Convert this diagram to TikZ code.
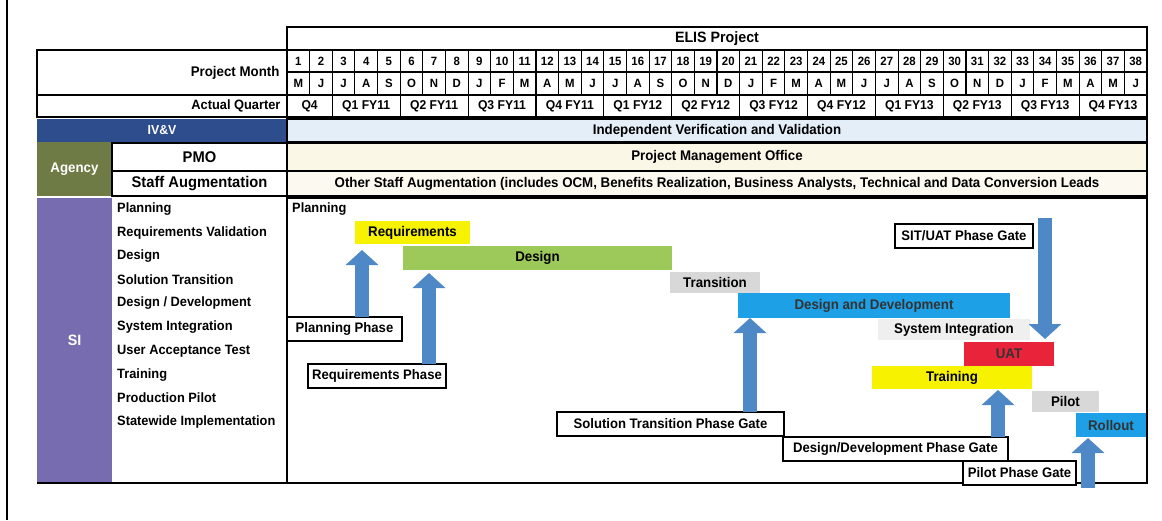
\documentclass[tikz,border=0pt]{standalone}
\usepackage{fontspec}
\setmainfont{Liberation Sans}[FakeStretch=0.95,BoldFeatures={FakeStretch=0.95}]
\usetikzlibrary{arrows.meta}
\definecolor{reqyellow}{HTML}{F7F200}
\definecolor{desgreen}{HTML}{9DC85A}
\definecolor{tragray}{HTML}{D8D8D8}
\definecolor{ddblue}{HTML}{1EA0E6}
\definecolor{sitgray}{HTML}{EFEFEF}
\definecolor{uatred}{HTML}{E8233A}
\definecolor{arrowblue}{HTML}{4F88C6}
\definecolor{ivvblue}{HTML}{2D4D8C}
\definecolor{ivvlight}{HTML}{E4EEF8}
\definecolor{creamA}{HTML}{FBF7E6}
\definecolor{creamB}{HTML}{FCFAF0}
\definecolor{agencyolive}{HTML}{6E7B45}
\definecolor{sipurple}{HTML}{776CB0}
\newcommand{\fsz}[1]{\fontsize{#1}{#1}\selectfont\bfseries}
\newcommand{\gbox}[7]{%
  \pgfmathsetmacro\gbw{#4-#2}\pgfmathsetmacro\gbh{#5-#3}%
  \node[inner sep=0pt, outer sep=0pt, minimum width=\gbw pt, minimum height=\gbh pt, #6] (#1) at ({(#2+#4)/2},{(#3+#5)/2}) {#7};}
\tikzset{
  cell/.style={draw=black, line width=1.1pt, fill=white, font=\fsz{12}},
  qcell/.style={draw=black, line width=1.1pt, fill=white, font=\fsz{12.8}},
  hdr/.style={draw=black, line width=1.1pt, fill=white, font=\fsz{15}},
  rowr/.style={draw=black, line width=1.1pt, font=\fsz{14}},
  bar/.style={draw=none, font=\fsz{14}},
  gate/.style={draw=black, line width=1.1pt, fill=white, font=\fsz{13.8}},
  silabel/.style={anchor=west, inner sep=0pt, font=\fsz{13.5}},
  garrow/.style={line width=14pt, draw=arrowblue, -{Triangle[width=32pt,length=15pt]}}
}
\begin{document}
\begin{tikzpicture}[x=1pt,y=-1pt]
\useasboundingbox (0,0) rectangle (1162,520);
\fill[white] (0,0) rectangle (1162,520);
\draw[line width=1.2pt] (7,0) -- (7,520);
% header
\gbox{elis}{287}{27}{1147}{50}{hdr}{ELIS Project}
\gbox{pm}{37}{50}{287}{95}{hdr}{}
\node[anchor=east, font=\fsz{14}] at ([xshift=-4pt]pm.east) {Project Month};
\gbox{aq}{37}{95}{287}{117}{hdr}{}
\node[anchor=east, font=\fsz{13.5}] at ([xshift=-3pt]aq.east) {Actual Quarter};
\foreach \m [count=\i] in {M,J,J,A,S,O,N,D,J,F,M,A,M,J,J,A,S,O,N,D,J,F,M,A,M,J,J,A,S,O,N,D,J,F,M,A,M,J} {
  \pgfmathsetmacro\xa{287+(\i-1)*22.632}
  \pgfmathsetmacro\xb{287+\i*22.632}
  \gbox{n\i}{\xa}{50}{\xb}{72}{cell}{\i}
  \gbox{m\i}{\xa}{72}{\xb}{95}{cell}{\m}
}
\foreach \a/\b/\t [count=\k] in {1/2/Q4, 3/5/Q1 FY11, 6/8/Q2 FY11, 9/11/Q3 FY11, 12/14/Q4 FY11, 15/17/Q1 FY12, 18/20/Q2 FY12, 21/23/Q3 FY12, 24/26/Q4 FY12, 27/29/Q1 FY13, 30/32/Q2 FY13, 33/35/Q3 FY13, 36/38/Q4 FY13} {
  \pgfmathsetmacro\xa{287+(\a-1)*22.632}
  \pgfmathsetmacro\xb{287+\b*22.632}
  \gbox{q\k}{\xa}{95}{\xb}{117}{qcell}{\t}
}
% agency rows
\gbox{ivvl}{37}{119}{287}{142}{fill=ivvblue, text=white, font=\fsz{13}}{IV\&V}
\gbox{ivvr}{287}{119}{1147}{142}{rowr, fill=ivvlight}{Independent Verification and Validation}
\gbox{agency}{37}{142}{112}{196}{fill=agencyolive, text=white, font=\fsz{14}}{Agency}
\gbox{pmol}{112}{143}{287}{171}{rowr, fill=white, font=\fsz{15.5}}{PMO}
\gbox{pmor}{287}{143}{1147}{171}{rowr, fill=creamA}{Project Management Office}
\gbox{stfl}{112}{171}{287}{196}{rowr, fill=white, font=\fsz{15.5}}{Staff Augmentation}
\gbox{stfr}{287}{171}{1147}{196}{rowr, fill=creamB}{Other Staff Augmentation (includes OCM, Benefits Realization, Business Analysts, Technical and Data Conversion Leads}
% SI block
\gbox{si}{37}{198}{112}{483}{fill=sipurple, text=white, font=\fsz{15}}{SI}
\gbox{chart}{287}{198}{1147}{483}{draw=black, line width=1.1pt}{}
\draw[line width=1.1pt] (si.south west) -- (chart.south west);
\node[silabel] (l1) at (117,209) {Planning};
\node[silabel] (l2) at (117,233) {Requirements Validation};
\node[silabel] (l3) at (117,256) {Design};
\node[silabel] (l4) at (117,280) {Solution Transition};
\node[silabel] (l5) at (117,303) {Design / Development};
\node[silabel] (l6) at (117,327) {System Integration};
\node[silabel] (l7) at (117,351) {User Acceptance Test};
\node[silabel] (l8) at (117,375) {Training};
\node[silabel] (l9) at (117,398) {Production Pilot};
\node[silabel] (l10) at (117,422) {Statewide Implementation};
% bars
\node[silabel] (plan) at (292,209) {Planning};
\gbox{req}{355}{221}{470}{244}{bar, fill=reqyellow}{Requirements}
\gbox{des}{403}{246}{672}{270}{bar, fill=desgreen}{Design}
\gbox{tra}{670}{272}{760}{293}{bar, fill=tragray}{Transition}
\gbox{dd}{738}{293}{1010}{318}{bar, fill=ddblue, text=black!80}{Design and Development}
\gbox{sit}{878}{319}{1030}{340}{bar, fill=sitgray}{System Integration}
\gbox{uat}{964}{342}{1054}{366}{bar, fill=uatred, text=black!80}{UAT}
\gbox{trn}{872}{366}{1032}{389}{bar, fill=reqyellow}{Training}
\gbox{pil}{1032}{391}{1099}{412}{bar, fill=tragray}{Pilot}
\gbox{swi}{1076}{413}{1146}{437}{bar, fill=ddblue, text=black!80}{Rollout}
% arrows
\coordinate (a1) at (362,250);
\coordinate (a2) at (429,273);
\coordinate (a3) at (750,318);
\coordinate (a4s) at (1045,218);
\coordinate (a4) at (1045,339);
\coordinate (a5) at (998,390);
\coordinate (a6s) at (1088,488);
\coordinate (a6) at (1088,438);
% gates
\gbox{g1}{287}{317}{402}{341}{gate}{Planning Phase}
\gbox{g2}{308}{364}{446}{388}{gate}{Requirements Phase}
\gbox{g3}{895}{224}{1033}{248}{gate}{SIT/UAT Phase Gate}
\gbox{g4}{557}{412}{784}{436}{gate}{Solution Transition Phase Gate}
\gbox{g5}{783}{437}{1008}{461}{gate}{Design/Development Phase Gate}
\gbox{g6}{963}{461}{1076}{485}{gate}{Pilot Phase Gate}
\draw[garrow] (g1.north -| a1) -- (a1);
\draw[garrow] (g2.north -| a2) -- (a2);
\draw[garrow] (g4.north -| a3) -- (a3);
\draw[garrow] (a4s) -- (a4);
\draw[garrow] (g5.north -| a5) -- (a5);
\draw[garrow] (a6s) -- (a6);
\end{tikzpicture}
\end{document}
